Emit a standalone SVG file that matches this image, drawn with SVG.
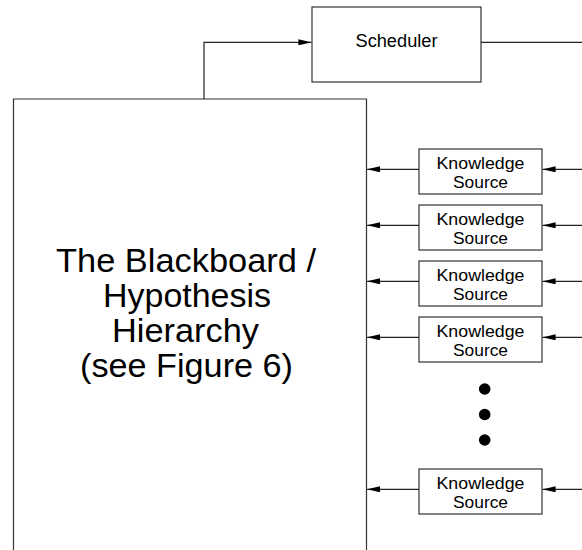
<svg xmlns="http://www.w3.org/2000/svg" width="582" height="550" viewBox="0 0 582 550">
<style>
.box{fill:#fff;stroke:#333;stroke-width:1.2}
.ln{fill:none;stroke:#222;stroke-width:1.2}
.t{font-family:"Liberation Sans",Arial,sans-serif;fill:#000;text-anchor:middle}
.ks{font-size:17px}
.big{font-size:33px}
.dot{fill:#000}
</style>
<defs>
<marker id="ah" viewBox="0 0 13 6" refX="13" refY="3" markerWidth="13" markerHeight="6" markerUnits="userSpaceOnUse" orient="auto">
<path d="M0,0 L13,3 L0,6 Z" fill="#000"/>
</marker>
</defs>
<rect width="582" height="550" fill="#fff"/>
<g id="blackboard">
<path class="box" d="M13.5,560 V99 H366.5 V560"/>
<text class="t big" x="186" y="272.3" textLength="260" lengthAdjust="spacingAndGlyphs">The Blackboard /</text>
<text class="t big" x="187" y="307.3" textLength="168" lengthAdjust="spacingAndGlyphs">Hypothesis</text>
<text class="t big" x="185.5" y="342.3" textLength="147" lengthAdjust="spacingAndGlyphs">Hierarchy</text>
<text class="t big" x="186.5" y="377.3" textLength="213" lengthAdjust="spacingAndGlyphs">(see Figure 6)</text>
</g>
<g id="scheduler">
<rect class="box" x="312" y="7" width="169" height="75"/>
<text class="t" style="font-size:17.5px" x="396.5" y="47" textLength="82" lengthAdjust="spacingAndGlyphs">Scheduler</text>
</g>
<g id="ks1">
<rect class="box" x="419" y="149" width="123" height="45"/>
<text class="t ks" x="480.5" y="168.5" textLength="88" lengthAdjust="spacingAndGlyphs">Knowledge</text>
<text class="t ks" x="480.5" y="187.7" textLength="55" lengthAdjust="spacingAndGlyphs">Source</text>
</g>
<g id="ks2">
<rect class="box" x="419" y="205" width="123" height="45"/>
<text class="t ks" x="480.5" y="224.5" textLength="88" lengthAdjust="spacingAndGlyphs">Knowledge</text>
<text class="t ks" x="480.5" y="243.7" textLength="55" lengthAdjust="spacingAndGlyphs">Source</text>
</g>
<g id="ks3">
<rect class="box" x="419" y="261" width="123" height="45"/>
<text class="t ks" x="480.5" y="280.5" textLength="88" lengthAdjust="spacingAndGlyphs">Knowledge</text>
<text class="t ks" x="480.5" y="299.7" textLength="55" lengthAdjust="spacingAndGlyphs">Source</text>
</g>
<g id="ks4">
<rect class="box" x="419" y="317" width="123" height="45"/>
<text class="t ks" x="480.5" y="336.5" textLength="88" lengthAdjust="spacingAndGlyphs">Knowledge</text>
<text class="t ks" x="480.5" y="355.7" textLength="55" lengthAdjust="spacingAndGlyphs">Source</text>
</g>
<g id="ellipsis">
<circle class="dot" cx="484.7" cy="389" r="5.8"/>
<circle class="dot" cx="484.7" cy="414.5" r="5.8"/>
<circle class="dot" cx="484.7" cy="440" r="5.8"/>
</g>
<g id="ks5">
<rect class="box" x="419" y="469" width="123" height="45"/>
<text class="t ks" x="480.5" y="488.5" textLength="88" lengthAdjust="spacingAndGlyphs">Knowledge</text>
<text class="t ks" x="480.5" y="507.7" textLength="55" lengthAdjust="spacingAndGlyphs">Source</text>
</g>
<g id="connectors">
<path class="ln" d="M204,99 V42.3 H311.4" marker-end="url(#ah)"/>
<path class="ln" d="M481,42.3 H582"/>
<path class="ln" d="M419,169.3 H367.1" marker-end="url(#ah)"/>
<path class="ln" d="M419,225.3 H367.1" marker-end="url(#ah)"/>
<path class="ln" d="M419,281.3 H367.1" marker-end="url(#ah)"/>
<path class="ln" d="M419,337.3 H367.1" marker-end="url(#ah)"/>
<path class="ln" d="M419,489.3 H367.1" marker-end="url(#ah)"/>
<path class="ln" d="M582,169.3 H542.6" marker-end="url(#ah)"/>
<path class="ln" d="M582,225.3 H542.6" marker-end="url(#ah)"/>
<path class="ln" d="M582,281.3 H542.6" marker-end="url(#ah)"/>
<path class="ln" d="M582,337.3 H542.6" marker-end="url(#ah)"/>
<path class="ln" d="M582,489.3 H542.6" marker-end="url(#ah)"/>
</g>
</svg>
